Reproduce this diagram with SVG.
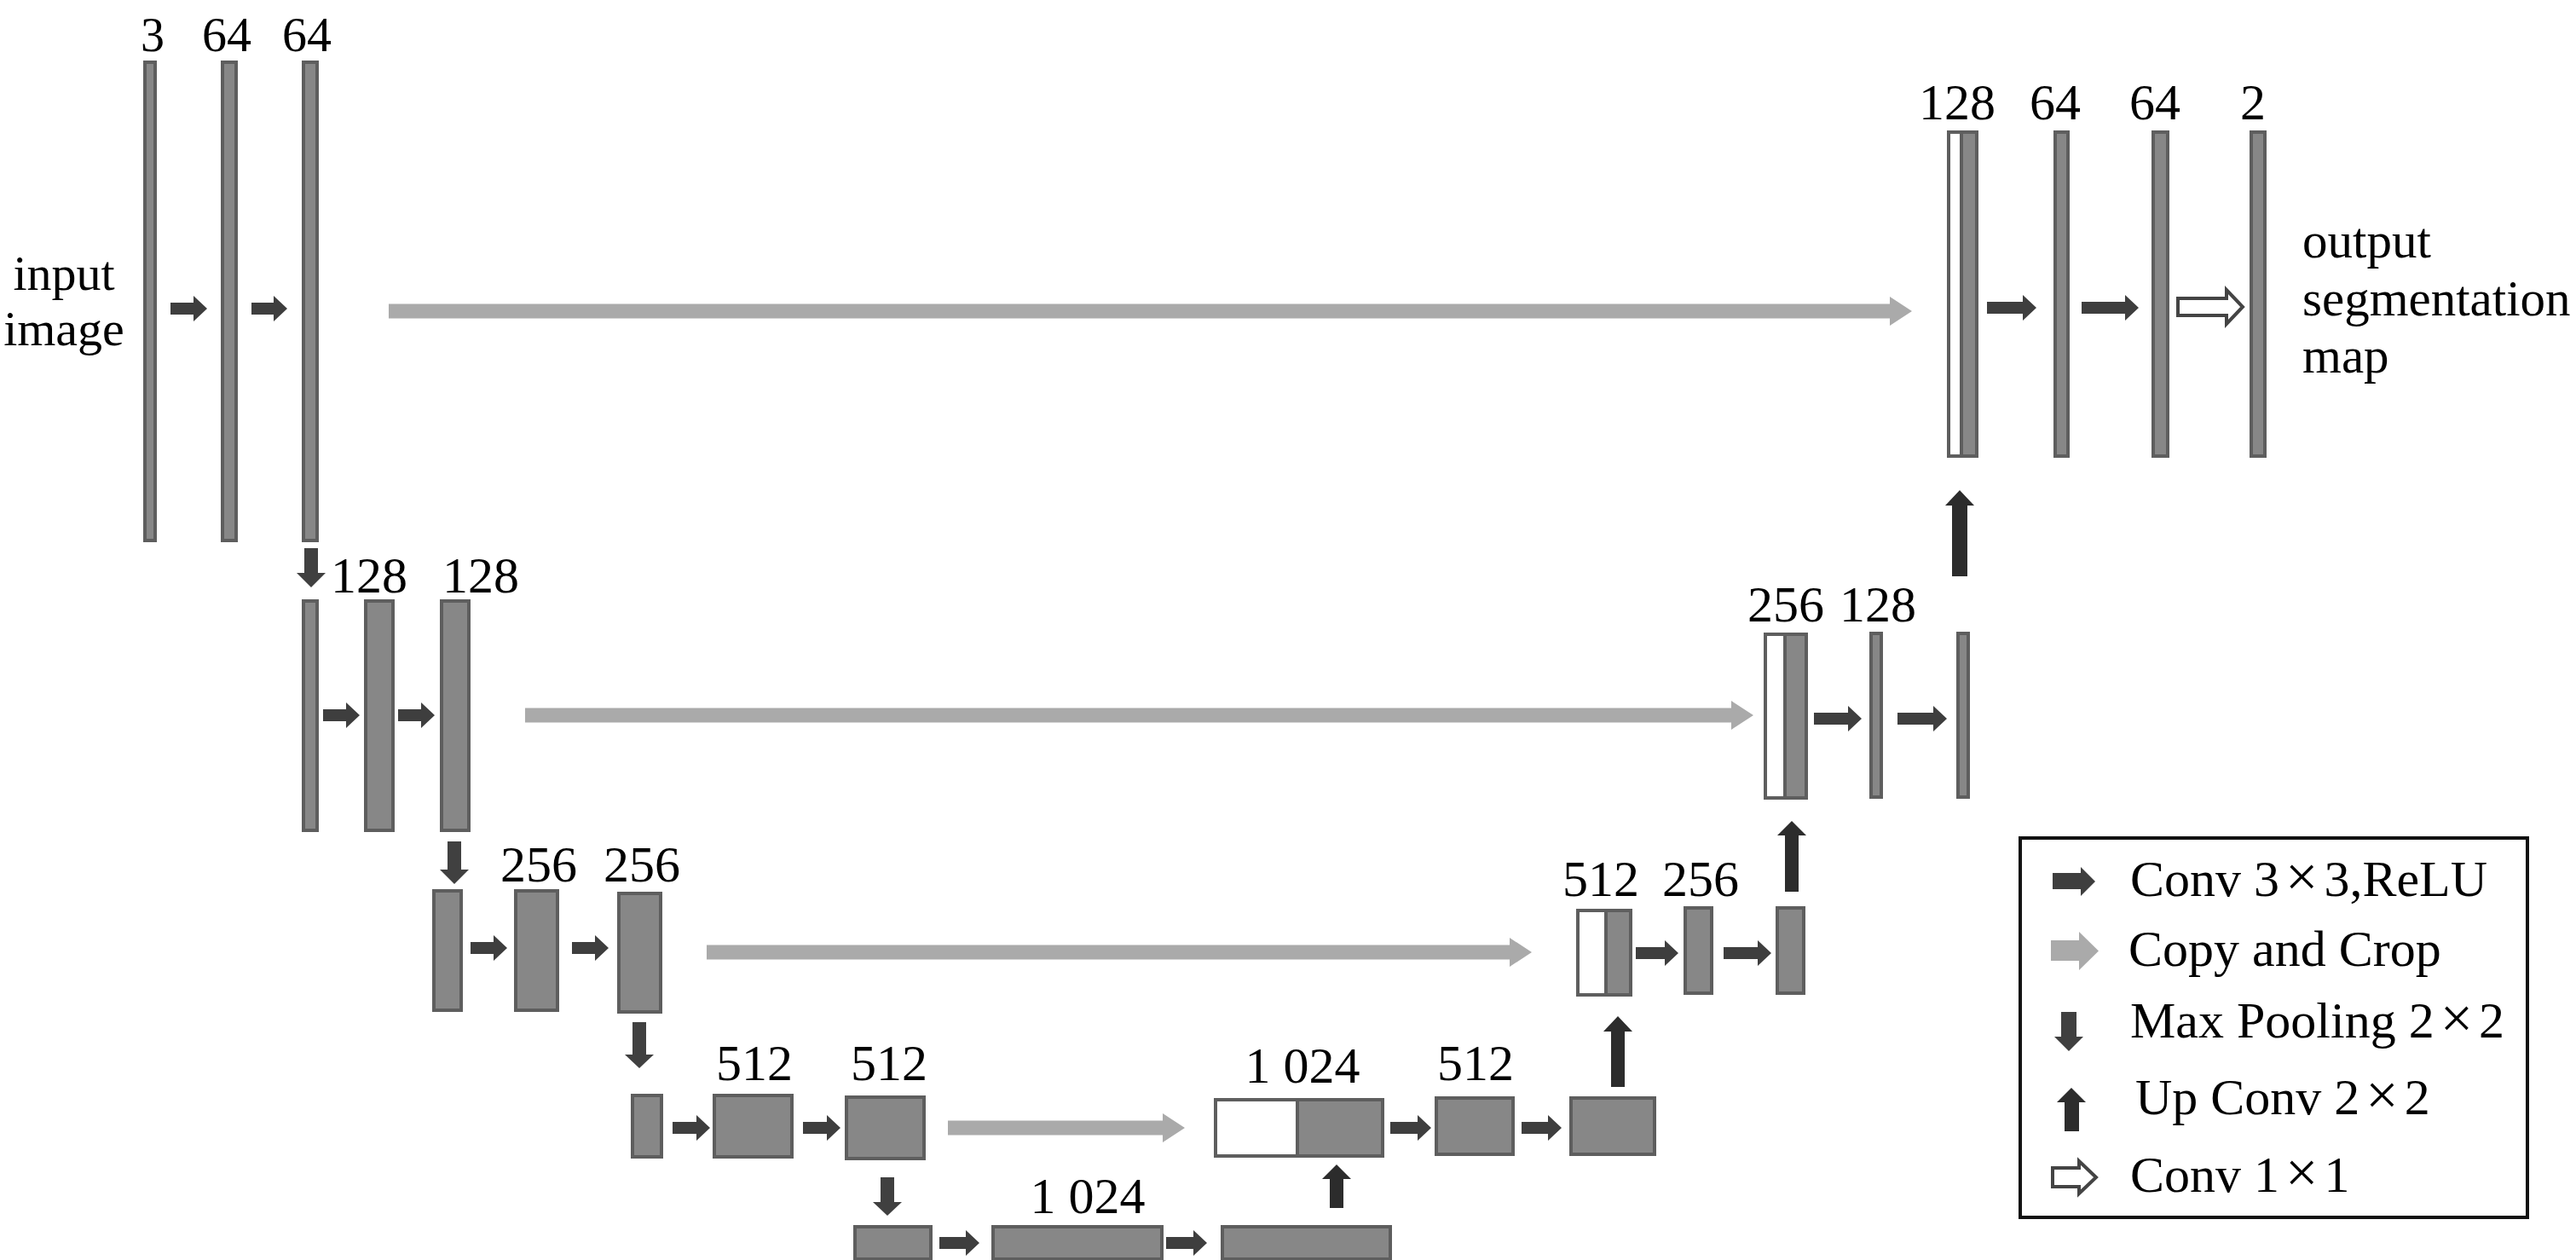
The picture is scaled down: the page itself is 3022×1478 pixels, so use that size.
<svg xmlns="http://www.w3.org/2000/svg" width="3022" height="1478" viewBox="0 0 3022 1478">
<style>
.bar{fill:#878787;stroke:#5e5e5e;stroke-width:4}
.cat{fill:#ffffff;stroke:#5e5e5e;stroke-width:4}
.conv{fill:#3e3e3e}
.copy{fill:#aaaaaa}
.pool{fill:#404040}
.up{fill:#2c2c2c}
.c11{fill:#ffffff;stroke:#444444;stroke-width:4}
text{font-family:"Liberation Serif","Times New Roman",serif;fill:#000000}
.lab{font-size:60px;text-anchor:middle}
.big{font-size:58px}
.leg{font-size:60px}
.x{font-size:68px}
</style>
<rect width="3022" height="1478" fill="#ffffff"/>

<g id="enc1">
<rect class="bar" x="170" y="73" width="12" height="561"/>
<rect class="bar" x="261" y="73" width="16" height="561"/>
<rect class="bar" x="356" y="73" width="16" height="561"/>
<text class="lab" x="179" y="60" style="font-size:56px">3</text>
<text class="lab" x="266" y="60" style="font-size:58px">64</text>
<text class="lab" x="360" y="60" style="font-size:58px">64</text>
</g>
<g id="input-label">
<text class="big" x="75" y="340" text-anchor="middle">input</text>
<text class="big" x="75" y="405" text-anchor="middle">image</text>
</g>
<g id="enc2">
<rect class="bar" x="356" y="705" width="16" height="269"/>
<rect class="bar" x="429" y="705" width="32" height="269"/>
<rect class="bar" x="518" y="705" width="32" height="269"/>
<text class="lab" x="433" y="695">128</text>
<text class="lab" x="564" y="695">128</text>
</g>
<g id="enc3">
<rect class="bar" x="509" y="1045" width="32" height="140"/>
<rect class="bar" x="605" y="1045" width="49" height="140"/>
<rect class="bar" x="726" y="1048" width="49" height="139"/>
<text class="lab" x="632" y="1034">256</text>
<text class="lab" x="753" y="1034">256</text>
</g>
<g id="enc4">
<rect class="bar" x="742" y="1285" width="34" height="72"/>
<rect class="bar" x="838" y="1285" width="91" height="72"/>
<rect class="bar" x="993" y="1287" width="91" height="72"/>
<text class="lab" x="885" y="1267">512</text>
<text class="lab" x="1043" y="1267">512</text>
</g>
<g id="bottleneck">
<rect class="bar" x="1003" y="1439" width="89" height="38"/>
<rect class="bar" x="1165" y="1439" width="198" height="38"/>
<rect class="bar" x="1434" y="1439" width="197" height="38"/>
<text class="lab" x="1276" y="1423">1 024</text>
</g>
<g id="dec4">
<rect class="cat" x="1426" y="1290" width="96" height="66"/>
<rect class="bar" x="1522" y="1290" width="100" height="66"/>
<rect class="bar" x="1685" y="1288" width="90" height="66"/>
<rect class="bar" x="1843" y="1288" width="98" height="66"/>
<text class="lab" x="1528" y="1270">1 024</text>
<text class="lab" x="1731" y="1267">512</text>
</g>
<g id="dec3">
<rect class="cat" x="1851" y="1068" width="33" height="99"/>
<rect class="bar" x="1884" y="1068" width="29" height="99"/>
<rect class="bar" x="1977" y="1065" width="31" height="100"/>
<rect class="bar" x="2085" y="1065" width="31" height="100"/>
<text class="lab" x="1878" y="1051">512</text>
<text class="lab" x="1995" y="1051">256</text>
</g>
<g id="dec2">
<rect class="cat" x="2071" y="744" width="23" height="192"/>
<rect class="bar" x="2094" y="744" width="25" height="192"/>
<rect class="bar" x="2195" y="743" width="12" height="192"/>
<rect class="bar" x="2297" y="743" width="12" height="192"/>
<text class="lab" x="2095" y="729">256</text>
<text class="lab" x="2203" y="729">128</text>
</g>
<g id="dec1">
<rect class="cat" x="2286" y="155" width="15" height="380"/>
<rect class="bar" x="2301" y="155" width="18" height="380"/>
<rect class="bar" x="2411" y="155" width="15" height="380"/>
<rect class="bar" x="2526" y="155" width="17" height="380"/>
<rect class="bar" x="2641" y="155" width="16" height="380"/>
<text class="lab" x="2296" y="140">128</text>
<text class="lab" x="2411" y="140">64</text>
<text class="lab" x="2528" y="140">64</text>
<text class="lab" x="2643" y="140">2</text>
</g>
<g id="output-label">
<text class="big" x="2701" y="302" style="font-size:59px">output</text>
<text class="big" x="2701" y="370" style="font-size:59px">segmentation</text>
<text class="big" x="2701" y="437" style="font-size:59px">map</text>
</g>

<g id="connectors">
<polygon class="copy" points="456,356.5 2217,356.5 2217,348 2243,365 2217,382 2217,373.5 456,373.5"/>
<polygon class="copy" points="616,830.5 2031,830.5 2031,822 2057,839 2031,856 2031,847.5 616,847.5"/>
<polygon class="copy" points="829,1108.5 1771,1108.5 1771,1100 1797,1117 1771,1134 1771,1125.5 829,1125.5"/>
<polygon class="copy" points="1112,1314.5 1364,1314.5 1364,1306 1390,1323 1364,1340 1364,1331.5 1112,1331.5"/>

<polygon class="conv" points="200,355 227,355 227,347 243,362 227,377 227,369 200,369"/>
<polygon class="conv" points="295,355 321,355 321,347 337,362 321,377 321,369 295,369"/>
<polygon class="conv" points="379,832 406,832 406,824 422,839 406,854 406,846 379,846"/>
<polygon class="conv" points="467,832 494,832 494,824 510,839 494,854 494,846 467,846"/>
<polygon class="conv" points="552,1105 579,1105 579,1097 595,1112 579,1127 579,1119 552,1119"/>
<polygon class="conv" points="671,1105 698,1105 698,1097 714,1112 698,1127 698,1119 671,1119"/>
<polygon class="conv" points="789,1316 817,1316 817,1308 833,1323 817,1338 817,1330 789,1330"/>
<polygon class="conv" points="942,1316 970,1316 970,1308 986,1323 970,1338 970,1330 942,1330"/>
<polygon class="conv" points="1102,1451 1133,1451 1133,1443 1149,1458 1133,1473 1133,1465 1102,1465"/>
<polygon class="conv" points="1368,1451 1400,1451 1400,1443 1416,1458 1400,1473 1400,1465 1368,1465"/>
<polygon class="conv" points="1631,1316 1663,1316 1663,1308 1679,1323 1663,1338 1663,1330 1631,1330"/>
<polygon class="conv" points="1785,1316 1816,1316 1816,1308 1832,1323 1816,1338 1816,1330 1785,1330"/>
<polygon class="conv" points="1919,1111 1953,1111 1953,1103 1969,1118 1953,1133 1953,1125 1919,1125"/>
<polygon class="conv" points="2022,1111 2062,1111 2062,1103 2078,1118 2062,1133 2062,1125 2022,1125"/>
<polygon class="conv" points="2128,836 2168,836 2168,828 2184,843 2168,858 2168,850 2128,850"/>
<polygon class="conv" points="2226,836 2268,836 2268,828 2284,843 2268,858 2268,850 2226,850"/>
<polygon class="conv" points="2331,354 2373,354 2373,346 2389,361 2373,376 2373,368 2331,368"/>
<polygon class="conv" points="2442,354 2493,354 2493,346 2509,361 2493,376 2493,368 2442,368"/>
<polygon class="c11" points="2555,350 2612,350 2612,340 2631,360 2612,380 2612,370 2555,370"/>

<polygon class="pool" points="357,643 373,643 373,672 382,672 365,689 348,672 357,672"/>
<polygon class="pool" points="525,987 541,987 541,1020 550,1020 533,1037 516,1020 525,1020"/>
<polygon class="pool" points="742,1199 758,1199 758,1237 767,1237 750,1253 733,1237 742,1237"/>
<polygon class="pool" points="1033,1381 1049,1381 1049,1410 1058,1410 1041,1426 1024,1410 1033,1410"/>

<polygon class="up" points="1568,1366 1585,1383 1576,1383 1576,1417 1560,1417 1560,1383 1551,1383"/>
<polygon class="up" points="1898,1192 1915,1210 1906,1210 1906,1275 1890,1275 1890,1210 1881,1210"/>
<polygon class="up" points="2102,963 2119,980 2110,980 2110,1046 2094,1046 2094,980 2085,980"/>
<polygon class="up" points="2299,575 2316,593 2308,593 2308,676 2290,676 2290,593 2282,593"/>
</g>

<g id="legend">
<rect x="2370" y="983" width="595" height="445" fill="#ffffff" stroke="#111111" stroke-width="4"/>
<polygon class="conv" points="2408,1024 2441,1024 2441,1017 2458,1034 2441,1051 2441,1043 2408,1043"/>
<polygon class="copy" points="2406,1103 2439,1103 2439,1093 2462,1115.5 2439,1138 2439,1127 2406,1127"/>
<polygon class="pool" points="2418,1187 2436,1187 2436,1216 2444,1216 2427,1233 2410,1216 2418,1216"/>
<polygon class="up" points="2430,1276 2447,1293 2439,1293 2439,1327 2422,1327 2422,1293 2413,1293"/>
<polygon class="c11" points="2408,1370 2439,1370 2439,1362 2459,1381 2439,1400 2439,1392 2408,1392"/>
<text class="leg" x="2499" y="1051">Conv 3<tspan class="x" dx="7">×</tspan><tspan dx="7">3,ReLU</tspan></text>
<text class="leg" x="2497" y="1133">Copy and Crop</text>
<text class="leg" x="2499" y="1217">Max Pooling 2<tspan class="x" dx="7">×</tspan><tspan dx="7">2</tspan></text>
<text class="leg" x="2505" y="1307">Up Conv 2<tspan class="x" dx="7">×</tspan><tspan dx="7">2</tspan></text>
<text class="leg" x="2499" y="1398">Conv 1<tspan class="x" dx="7">×</tspan><tspan dx="7">1</tspan></text>
</g>
</svg>
